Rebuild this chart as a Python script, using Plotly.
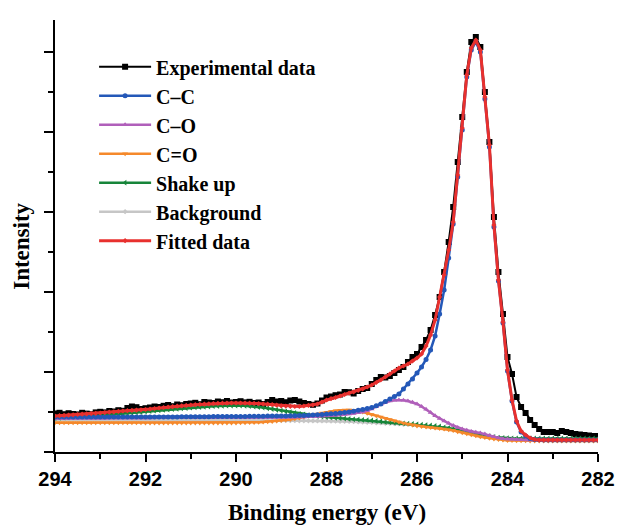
import numpy as np
import plotly.graph_objects as go

# Binding energy grid (eV), 0.1 eV steps from 294.0 down to 282.0
energy = np.round(np.arange(294.0, 281.95, -0.1), 1)

experimental = [
    385, 392, 378, 388, 380, 376, 392, 384, 378, 396,
    402, 396, 410, 405, 418, 412, 440, 455, 448, 430,
    438, 445, 455, 450, 462, 470, 458, 475, 468, 480,
    485, 492, 478, 500, 495, 490, 505, 498, 510, 495,
    500, 508, 496, 502, 490, 495, 480, 500, 520, 505,
    510, 498, 515, 520, 505, 490, 480, 472, 485, 515,
    545, 555, 568, 575, 600, 598, 585, 610, 630, 640,
    680, 720, 750, 745, 760, 790, 820, 850, 900, 950,
    980, 1050, 1120, 1220, 1370, 1550, 1800, 2100, 2450, 2900,
    3350, 3800, 4100, 4150, 4050, 3600, 3100, 2350, 1800, 1380,
    950, 780, 550, 450, 390, 320, 270, 230, 200, 200,
    200, 190, 210, 200, 190, 180, 175, 170, 165, 160,
    160,
]

c_c = [
    350, 350, 350, 350, 350, 350, 350, 350, 350, 350,
    350, 350, 350, 350, 350, 350, 350, 350, 350, 350,
    350, 350, 350, 350, 351, 351, 351, 351, 352, 352,
    352, 352, 353, 353, 353, 354, 354, 354, 355, 355,
    355, 356, 356, 357, 357, 358, 358, 359, 359, 360,
    360, 361, 362, 363, 364, 365, 367, 369, 373, 376,
    380, 383, 386, 390, 395, 400, 408, 417, 426, 435,
    445, 462, 480, 505, 530, 555, 580, 630, 680, 730,
    790, 850, 925, 1020, 1160, 1380, 1620, 1940, 2280, 2750,
    3220, 3750, 4020, 4100, 4000, 3530, 3050, 2250, 1710, 1290,
    810, 510, 300, 200, 160, 135, 125, 122, 120, 120,
    120, 120, 120, 120, 120, 120, 120, 120, 120, 120,
    120,
]

c_o = [
    335, 335, 335, 336, 336, 336, 337, 337, 337, 338,
    338, 338, 339, 339, 339, 340, 340, 340, 341, 341,
    341, 341, 342, 342, 342, 342, 343, 343, 343, 343,
    343, 343, 344, 344, 344, 344, 344, 344, 345, 345,
    345, 345, 345, 345, 345, 345, 345, 345, 345, 345,
    345, 346, 347, 348, 349, 350, 352, 354, 356, 358,
    360, 363, 366, 370, 375, 380, 385, 392, 400, 413,
    430, 453, 478, 497, 510, 518, 520, 517, 510, 498,
    480, 455, 427, 395, 362, 335, 310, 287, 265, 246,
    230, 218, 205, 197, 190, 180, 165, 152, 140, 133,
    130, 127, 124, 122, 120, 120, 120, 120, 120, 120,
    120, 120, 120, 120, 120, 120, 120, 120, 120, 120,
    120,
]

c_double_o = [
    292, 292, 292, 292, 292, 292, 292, 292, 292, 292,
    292, 292, 292, 292, 292, 292, 292, 292, 292, 292,
    291, 291, 291, 291, 291, 291, 291, 291, 291, 291,
    291, 291, 291, 291, 291, 291, 291, 291, 291, 291,
    291, 292, 293, 294, 296, 298, 300, 303, 306, 310,
    315, 320, 326, 333, 341, 350, 360, 370, 380, 390,
    398, 405, 412, 417, 420, 420, 417, 410, 400, 388,
    375, 362, 350, 338, 325, 313, 301, 289, 279, 270,
    260, 254, 249, 244, 240, 236, 229, 222, 214, 203,
    193, 183, 173, 163, 153, 145, 138, 131, 125, 120,
    116, 114, 113, 112, 112, 111, 111, 111, 110, 110,
    110, 110, 110, 110, 110, 110, 110, 110, 110, 110,
    110,
]

shake_up = [
    340, 342, 344, 346, 348, 350, 352, 355, 358, 361,
    365, 368, 372, 376, 380, 384, 388, 392, 396, 400,
    405, 409, 413, 417, 421, 425, 429, 432, 436, 439,
    443, 446, 449, 452, 455, 458, 460, 462, 464, 465,
    465, 464, 462, 459, 455, 450, 444, 437, 430, 422,
    414, 406, 398, 390, 382, 375, 369, 363, 358, 354,
    350, 346, 342, 338, 334, 330, 327, 324, 321, 318,
    315, 310, 305, 300, 296, 292, 289, 286, 283, 280,
    277, 273, 269, 265, 260, 255, 246, 239, 231, 222,
    212, 202, 192, 182, 172, 164, 157, 150, 144, 140,
    139, 137, 136, 135, 135, 135, 135, 135, 135, 135,
    135, 135, 135, 135, 135, 135, 135, 135, 135, 135,
    135,
]

background = [
    320, 320, 320, 320, 320, 320, 320, 320, 320, 320,
    320, 320, 320, 320, 320, 320, 320, 320, 320, 320,
    319, 319, 319, 319, 318, 318, 318, 318, 318, 318,
    318, 318, 317, 317, 317, 317, 317, 316, 316, 316,
    316, 316, 316, 315, 315, 315, 315, 314, 314, 314,
    313, 313, 313, 313, 312, 312, 312, 311, 311, 311,
    310, 309, 308, 307, 306, 305, 303, 301, 299, 297,
    295, 292, 290, 287, 285, 283, 280, 277, 275, 272,
    270, 265, 260, 255, 250, 245, 235, 228, 220, 210,
    200, 190, 180, 170, 160, 152, 145, 138, 132, 128,
    125, 123, 122, 121, 120, 120, 120, 120, 120, 120,
    120, 120, 120, 120, 120, 120, 120, 120, 120, 120,
    120,
]

fitted = [
    360, 363, 366, 369, 372, 375, 378, 381, 384, 387,
    390, 394, 398, 402, 406, 410, 413, 416, 419, 422,
    425, 430, 435, 440, 445, 450, 454, 458, 462, 466,
    470, 473, 476, 479, 482, 485, 487, 488, 489, 490,
    490, 490, 489, 488, 486, 484, 481, 478, 474, 468,
    462, 459, 457, 455, 456, 460, 466, 472, 480, 500,
    520, 533, 545, 560, 575, 588, 600, 615, 630, 650,
    670, 695, 720, 750, 780, 810, 840, 860, 880, 910,
    940, 980, 1060, 1170, 1320, 1550, 1770, 2020, 2300, 2770,
    3240, 3770, 4040, 4120, 4020, 3550, 3070, 2270, 1720, 1300,
    820, 520, 310, 210, 170, 140, 125, 120, 120, 120,
    120, 120, 120, 120, 120, 120, 120, 120, 120, 120,
    120,
]

x_ticks = [294, 292, 290, 288, 286, 284, 282]
x_tick_labels = ["294", "292", "290", "288", "286", "284", "282"]

serif = "Liberation Serif"
sans = "Liberation Sans"

fig = go.Figure()

def add(name, y, color, symbol, size, width, rank):
    fig.add_trace(go.Scatter(
        x=energy, y=y, name=name, mode="lines+markers",
        line=dict(color=color, width=width),
        marker=dict(symbol=symbol, size=size, color=color, line=dict(width=0)),
        legendrank=rank,
    ))

add("Experimental data", experimental, "#000000", "square", 6, 2, 1)
add("Background", background, "#c6c6c6", "diamond", 4, 2.5, 6)
add("Shake up", shake_up, "#17853a", "triangle-left", 5, 2.5, 5)
add("C=O", c_double_o, "#f5892b", "triangle-down", 5, 2.5, 4)
add("C\u2013O", c_o, "#b05fba", "triangle-up", 5, 2.5, 3)
add("C\u2013C", c_c, "#2458b8", "circle", 5, 2.5, 2)
add("Fitted data", fitted, "#e8302e", "diamond", 4, 3, 7)

fig.update_layout(
    width=618, height=526,
    margin=dict(l=55, r=20, t=20, b=74, autoexpand=False),
    paper_bgcolor="white", plot_bgcolor="white",
    showlegend=True,
    legend=dict(
        x=0.072, y=0.937, xanchor="left", yanchor="top",
        bgcolor="rgba(0,0,0,0)", borderwidth=0,
        font=dict(family=serif, size=20, color="black", weight="bold"),
        itemwidth=52, tracegroupgap=0,
    ),
    xaxis=dict(
        range=[294, 282], tickmode="array", tickvals=x_ticks,
        ticktext=x_tick_labels, automargin=False,
        showline=True, linecolor="black", linewidth=2,
        ticks="outside", ticklen=8, tickwidth=2, tickcolor="black",
        minor=dict(ticks="outside", ticklen=5, tickwidth=2, tickcolor="black",
                   tickvals=[293, 291, 289, 287, 285, 283]),
        showgrid=False, zeroline=False,
        tickfont=dict(family=sans, size=20, color="black", weight="bold"),
    ),
    yaxis=dict(
        range=[0, 4320], tick0=0, dtick=800,
        showticklabels=False, automargin=False,
        showline=True, linecolor="black", linewidth=2,
        ticks="outside", ticklen=9, tickwidth=2, tickcolor="black",
        minor=dict(ticks="outside", ticklen=5, tickwidth=2, tickcolor="black",
                   tick0=400, dtick=800),
        showgrid=False, zeroline=False,
    ),
    annotations=[
        dict(text="Binding energy (eV)", xref="paper", yref="paper",
             x=0.5, y=-0.139, xanchor="center", yanchor="middle",
             showarrow=False,
             font=dict(family=serif, size=23, color="black", weight="bold")),
        dict(text="Intensity", xref="paper", yref="paper",
             x=-0.061, y=0.477, xanchor="center", yanchor="middle",
             textangle=-90, showarrow=False,
             font=dict(family=serif, size=23, color="black", weight="bold")),
    ],
)

# Remove the browser's default 8px body margin so the 618x526 figure fills the window.
fig.write_html(
    "out.html",
    config={"displayModeBar": False},
    post_script="document.body.style.margin='0px'; document.body.style.overflow='hidden';",
)
